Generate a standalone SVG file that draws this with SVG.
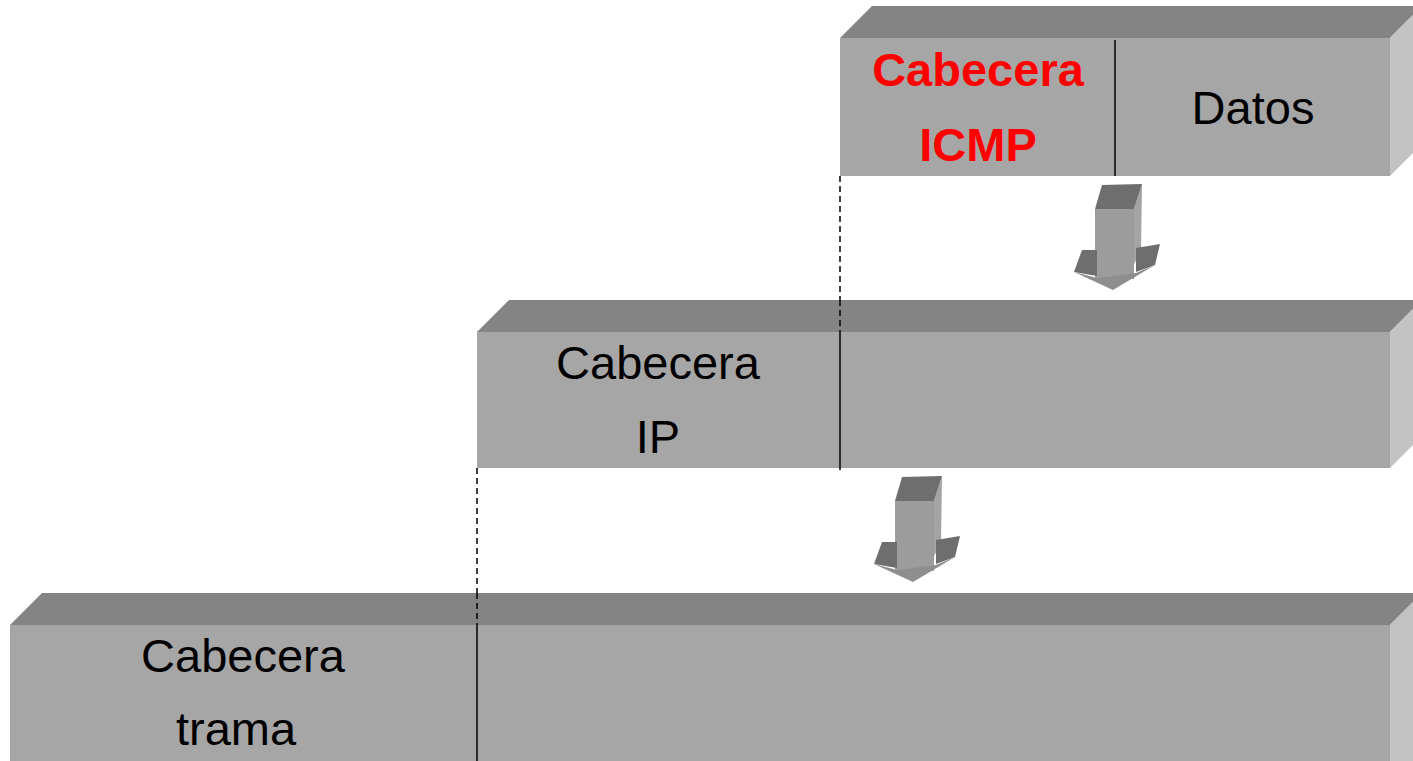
<svg xmlns="http://www.w3.org/2000/svg" xmlns:xlink="http://www.w3.org/1999/xlink" width="1413" height="761" viewBox="0 0 1413 761">
<style>
.top{fill:#848484}
.front{fill:#a6a6a6}
.side{fill:#c3c3c3}
.div{stroke:#000;stroke-width:1.5;fill:none}
.dash{stroke:#000;stroke-width:1.5;stroke-dasharray:6 4;fill:none}
.t{font-family:"Liberation Sans",Arial,sans-serif;font-size:47px;fill:#000;text-anchor:middle}
.r{font-weight:bold;fill:#ff0000}
</style>
<defs>
<g id="arrow">
<polygon points="1134,209 1142,184 1141,252 1134,264" fill="#a4a4a4"/>
<rect x="1095" y="209" width="39" height="70" fill="#9c9c9c"/>
<polygon points="1082,250 1097,250 1097,276 1074,272" fill="#6e6e6e"/>
<polygon points="1136,248 1160,244 1155,265 1136,272" fill="#6e6e6e"/>
<polygon points="1074,272 1097,278 1136,273 1155,265 1113,290" fill="#8e8e8e"/>
<polygon points="1102,185 1142,184 1134,209 1095,209" fill="#6e6e6e"/>
</g>
</defs>
<g id="connectors">
<line class="dash" x1="840" y1="176" x2="840" y2="332"/>
<line class="dash" x1="477" y1="468" x2="477" y2="625"/>
<use xlink:href="#arrow"/>
<use xlink:href="#arrow" transform="translate(-200,292)"/>
</g>
<g id="icmp-packet">
<polygon class="top" points="840,38 872,6 1422,6 1390,38"/>
<polygon class="side" points="1390,38 1422,6 1422,144 1390,176"/>
<rect class="front" x="840" y="38" width="550" height="138"/>
<line class="div" x1="1115" y1="40" x2="1115" y2="176"/>
<text class="t r" x="978" y="86">Cabecera</text>
<text class="t r" x="978" y="161">ICMP</text>
<text class="t" x="1253" y="124">Datos</text>
</g>
<g id="ip-packet">
<polygon class="top" points="477,332 509,300 1422,300 1390,332"/>
<polygon class="side" points="1390,332 1422,300 1422,436 1390,468"/>
<rect class="front" x="477" y="332" width="913" height="136"/>
<line class="dash" x1="840" y1="300" x2="840" y2="332"/>
<line class="div" x1="840" y1="332" x2="840" y2="470"/>
<text class="t" x="658" y="379">Cabecera</text>
<text class="t" x="658" y="453">IP</text>
</g>
<g id="frame">
<polygon class="top" points="10,625 42,593 1422,593 1390,625"/>
<polygon class="side" points="1390,625 1422,593 1422,761 1390,761"/>
<rect class="front" x="10" y="625" width="1380" height="140"/>
<line class="dash" x1="477" y1="593" x2="477" y2="625"/>
<line class="div" x1="477" y1="625" x2="477" y2="761"/>
<text class="t" x="243" y="672">Cabecera</text>
<text class="t" x="236" y="745">trama</text>
</g>
</svg>
